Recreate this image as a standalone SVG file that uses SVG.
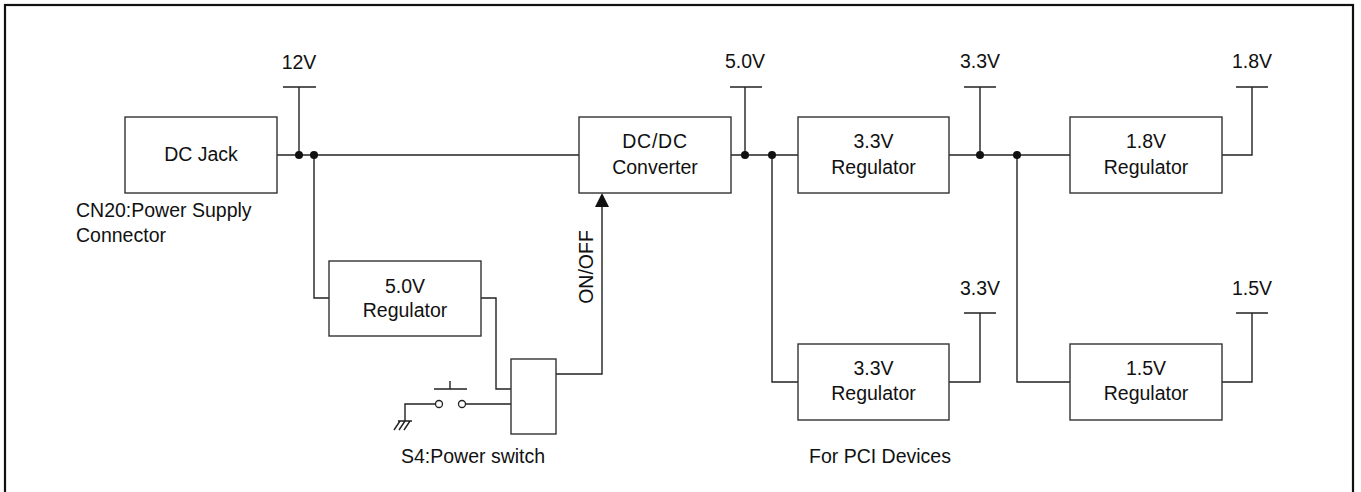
<svg xmlns="http://www.w3.org/2000/svg" width="1361" height="492" viewBox="0 0 1361 492">
<style>
text{font-family:"Liberation Sans",Arial,sans-serif;font-size:19.5px;fill:#111}
.c{text-anchor:middle}
.box{fill:#fff;stroke:#333;stroke-width:1.4}
.w{fill:none;stroke:#222;stroke-width:1.4}
.dot{fill:#111}
.arrow{fill:#111}
</style>
<rect x="5" y="5" width="1348" height="492" fill="none" stroke="#111" stroke-width="2.2"/>
<g id="connectors">
<path class="w" d="M277,155 H579"/>
<path class="w" d="M283,87 H316 M299,87 V155"/>
<path class="w" d="M314,155 V298 H329"/>
<path class="w" d="M481,298 H496 V389 H511"/>
<path class="w" d="M556,374 H602 V205"/>
<polygon class="arrow" points="602,193 609,207 595,207"/>
<path class="w" d="M731,155 H798"/>
<path class="w" d="M730,87 H762 M745,87 V155"/>
<path class="w" d="M772,155 V382 H798"/>
<path class="w" d="M949,155 H1070"/>
<path class="w" d="M964,87 H996 M980,87 V155"/>
<path class="w" d="M1017,155 V382 H1070"/>
<path class="w" d="M1222,155 H1252 V87 M1236,87 H1268"/>
<path class="w" d="M949,382 H980 V313 M964,313 H996"/>
<path class="w" d="M1222,382 H1252 V313 M1236,313 H1268"/>
<circle class="dot" cx="299" cy="155" r="4"/>
<circle class="dot" cx="314" cy="155" r="4"/>
<circle class="dot" cx="745" cy="155" r="4"/>
<circle class="dot" cx="772" cy="155" r="4"/>
<circle class="dot" cx="980" cy="155" r="4"/>
<circle class="dot" cx="1017" cy="155" r="4"/>
</g>
<g id="switch-symbol">
<path class="w" d="M511,404 H466 M435.5,404 H405 V421 M398,421 H412 M400,421 L394,430 M405,421 L399,430 M410,421 L404,430"/>
<circle cx="439" cy="404" r="3.5" fill="#fff" stroke="#222" stroke-width="1.3"/>
<circle cx="462" cy="404" r="3.5" fill="#fff" stroke="#222" stroke-width="1.3"/>
<path class="w" d="M434,389 H467 M450,381 V389"/>
</g>
<g id="v12"><text class="c" x="299" y="69">12V</text></g>
<g id="v50"><text class="c" x="745" y="68">5.0V</text></g>
<g id="v33a"><text class="c" x="980" y="68">3.3V</text></g>
<g id="v18"><text class="c" x="1252" y="68">1.8V</text></g>
<g id="v33b"><text class="c" x="980" y="295">3.3V</text></g>
<g id="v15"><text class="c" x="1252" y="295">1.5V</text></g>
<g id="dcjack">
<rect class="box" x="125" y="117" width="152" height="76"/>
<text class="c" x="201" y="161">DC Jack</text>
<text x="76" y="217">CN20:Power Supply</text>
<text x="76" y="242">Connector</text>
</g>
<g id="reg50">
<rect class="box" x="329" y="261" width="152" height="75"/>
<text class="c" x="405" y="293">5.0V</text>
<text class="c" x="405" y="317">Regulator</text>
</g>
<g id="switch">
<rect class="box" x="511" y="359" width="45" height="75"/>
<text x="401" y="463">S4:Power switch</text>
</g>
<g id="onoff"><text class="c" x="593" y="267" transform="rotate(-90 593 267)">ON/OFF</text></g>
<g id="dcdc">
<rect class="box" x="579" y="117" width="152" height="76"/>
<text class="c" x="655" y="148" letter-spacing="0.8">DC/DC</text>
<text class="c" x="655" y="174">Converter</text>
</g>
<g id="reg33a">
<rect class="box" x="798" y="117" width="151" height="76"/>
<text class="c" x="873.5" y="148">3.3V</text>
<text class="c" x="873.5" y="174">Regulator</text>
</g>
<g id="reg18">
<rect class="box" x="1070" y="117" width="152" height="76"/>
<text class="c" x="1146" y="148">1.8V</text>
<text class="c" x="1146" y="174">Regulator</text>
</g>
<g id="reg33b">
<rect class="box" x="798" y="344" width="151" height="76"/>
<text class="c" x="873.5" y="375">3.3V</text>
<text class="c" x="873.5" y="400">Regulator</text>
<text x="809" y="463">For PCI Devices</text>
</g>
<g id="reg15">
<rect class="box" x="1070" y="344" width="152" height="76"/>
<text class="c" x="1146" y="375">1.5V</text>
<text class="c" x="1146" y="400">Regulator</text>
</g>
</svg>
